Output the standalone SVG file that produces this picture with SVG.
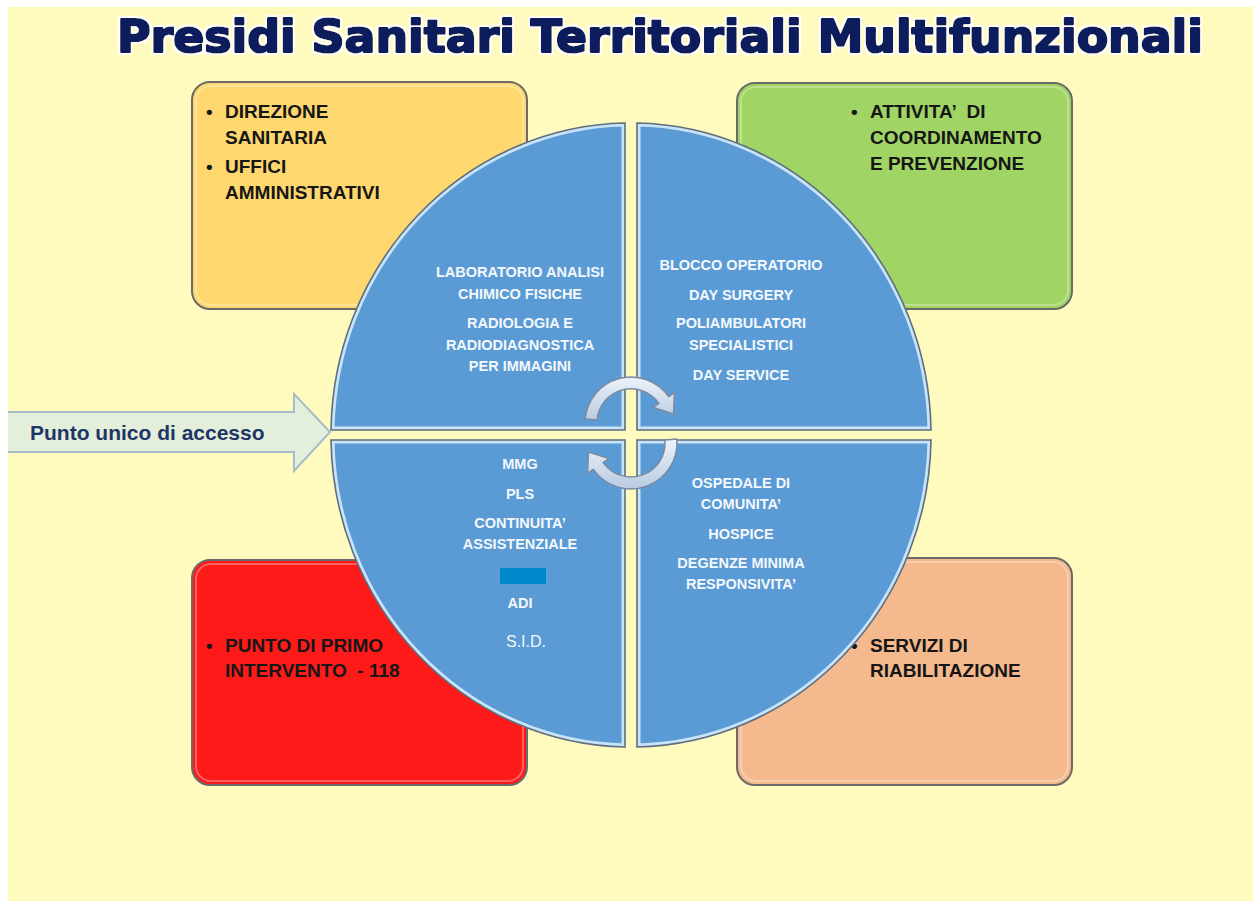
<svg xmlns="http://www.w3.org/2000/svg" width="1253" height="901" viewBox="0 0 1253 901">
<style>
.box{stroke:#6A6A6A;stroke-width:2}
.hl{fill:none;stroke:#FFFFFF;stroke-opacity:0.3;stroke-width:2}
.bt{font-family:"Liberation Sans",Arial,sans-serif;font-weight:bold;font-size:19px;fill:#161616;white-space:pre}
.qf{fill:#5B9BD5}
.qb{fill:none;stroke:#C9E3F8;stroke-width:7}
.qo{fill:none;stroke:#5C6E80;stroke-width:1.6}
.qt{font-family:"Liberation Sans",Arial,sans-serif;font-weight:bold;font-size:14.5px;fill:#F4F8FC;text-anchor:middle}
.rot{fill:url(#gRot);stroke:#7A8AA0;stroke-width:1.5;stroke-linejoin:round}
</style>
<defs>
<linearGradient id="gRot" x1="0" y1="0" x2="0" y2="1">
<stop offset="0" stop-color="#EEF3FA"/>
<stop offset="1" stop-color="#B8CBE2"/>
</linearGradient>
<filter id="halo" x="-5%" y="-30%" width="110%" height="160%">
<feMorphology in="SourceAlpha" operator="dilate" radius="1.6" result="d"/>
<feFlood flood-color="#FFFFFF" flood-opacity="0.85"/>
<feComposite in2="d" operator="in" result="w"/>
<feMerge><feMergeNode in="w"/><feMergeNode in="SourceGraphic"/></feMerge>
</filter>
<clipPath id="slide"><rect x="8" y="7" width="1245" height="894"/></clipPath>
<clipPath id="cTL"><path d="M331,430 A300 312 0 0 1 625,123 L625,430 Z"/></clipPath>
<clipPath id="cTR"><path d="M637,123 A300 312 0 0 1 931,430 L637,430 Z"/></clipPath>
<clipPath id="cBL"><path d="M331,440 L625,440 L625,747 A300 312 0 0 1 331,440 Z"/></clipPath>
<clipPath id="cBR"><path d="M637,440 L931,440 A300 312 0 0 1 637,747 Z"/></clipPath>
</defs>

<rect x="0" y="0" width="1253" height="901" fill="#FFFFFF"/>
<rect x="8" y="7" width="1245" height="894" fill="#FFFABD"/>

<g id="title">
<text x="117" y="52" font-family="'DejaVu Sans','Liberation Sans',sans-serif" font-weight="bold" font-size="45" fill="#0B1D5B" stroke="#0B1D5B" stroke-width="2.2" stroke-linejoin="round" textLength="1086" lengthAdjust="spacingAndGlyphs" filter="url(#halo)">Presidi Sanitari Territoriali Multifunzionali</text>
</g>

<g id="box-direzione">
<rect class="box" x="192" y="82" width="335" height="227" rx="18" fill="#FED86E"/>
<rect class="hl" x="196" y="86" width="327" height="219" rx="15"/>
<text class="bt" x="206" y="118">•</text>
<text class="bt" x="225" y="118">DIREZIONE</text>
<text class="bt" x="225" y="144">SANITARIA</text>
<text class="bt" x="206" y="173">•</text>
<text class="bt" x="225" y="173">UFFICI</text>
<text class="bt" x="225" y="199">AMMINISTRATIVI</text>
</g>

<g id="box-coordinamento">
<rect class="box" x="737" y="83" width="335" height="226" rx="18" fill="#A0D565"/>
<rect class="hl" x="741" y="87" width="327" height="218" rx="15"/>
<text class="bt" x="851" y="118">•</text>
<text class="bt" x="870" y="118">ATTIVITA’  DI</text>
<text class="bt" x="870" y="144">COORDINAMENTO</text>
<text class="bt" x="870" y="170">E PREVENZIONE</text>
</g>

<g id="box-primo-intervento">
<rect class="box" x="192" y="560" width="335" height="225" rx="18" fill="#FF1A1A"/>
<rect class="hl" x="196" y="564" width="327" height="217" rx="15"/>
<text class="bt" x="206" y="652">•</text>
<text class="bt" x="225" y="652">PUNTO DI PRIMO</text>
<text class="bt" x="225" y="677">INTERVENTO  - 118</text>
</g>

<g id="box-riabilitazione">
<rect class="box" x="737" y="558" width="335" height="227" rx="18" fill="#F4B98C"/>
<rect class="hl" x="741" y="562" width="327" height="219" rx="15"/>
<text class="bt" x="851" y="652">•</text>
<text class="bt" x="870" y="652">SERVIZI DI</text>
<text class="bt" x="870" y="677">RIABILITAZIONE</text>
</g>

<g id="q-diagnostica">
<path class="qf" d="M331,430 A300 312 0 0 1 625,123 L625,430 Z"/>
<path class="qb" clip-path="url(#cTL)" d="M331,430 A300 312 0 0 1 625,123 L625,430 Z"/>
<path class="qo" d="M331,430 A300 312 0 0 1 625,123 L625,430 Z"/>
<text class="qt" x="520" y="277">LABORATORIO ANALISI</text>
<text class="qt" x="520" y="299">CHIMICO FISICHE</text>
<text class="qt" x="520" y="328">RADIOLOGIA E</text>
<text class="qt" x="520" y="350">RADIODIAGNOSTICA</text>
<text class="qt" x="520" y="371">PER IMMAGINI</text>
</g>

<g id="q-chirurgia">
<path class="qf" d="M637,123 A300 312 0 0 1 931,430 L637,430 Z"/>
<path class="qb" clip-path="url(#cTR)" d="M637,123 A300 312 0 0 1 931,430 L637,430 Z"/>
<path class="qo" d="M637,123 A300 312 0 0 1 931,430 L637,430 Z"/>
<text class="qt" x="741" y="270">BLOCCO OPERATORIO</text>
<text class="qt" x="741" y="300">DAY SURGERY</text>
<text class="qt" x="741" y="328">POLIAMBULATORI</text>
<text class="qt" x="741" y="350">SPECIALISTICI</text>
<text class="qt" x="741" y="380">DAY SERVICE</text>
</g>

<g id="q-assistenza">
<path class="qf" d="M331,440 L625,440 L625,747 A300 312 0 0 1 331,440 Z"/>
<path class="qb" clip-path="url(#cBL)" d="M331,440 L625,440 L625,747 A300 312 0 0 1 331,440 Z"/>
<path class="qo" d="M331,440 L625,440 L625,747 A300 312 0 0 1 331,440 Z"/>
<text class="qt" x="520" y="469">MMG</text>
<text class="qt" x="520" y="499">PLS</text>
<text class="qt" x="520" y="528">CONTINUITA’</text>
<text class="qt" x="520" y="549">ASSISTENZIALE</text>
<rect x="500" y="568" width="46" height="16" fill="#0088CC"/>
<text class="qt" x="520" y="608">ADI</text>
<text x="526" y="647" font-family="'Liberation Sans',Arial,sans-serif" font-size="16" fill="#F4F8FC" text-anchor="middle">S.I.D.</text>
</g>

<g id="q-degenza">
<path class="qf" d="M637,440 L931,440 A300 312 0 0 1 637,747 Z"/>
<path class="qb" clip-path="url(#cBR)" d="M637,440 L931,440 A300 312 0 0 1 637,747 Z"/>
<path class="qo" d="M637,440 L931,440 A300 312 0 0 1 637,747 Z"/>
<text class="qt" x="741" y="488">OSPEDALE DI</text>
<text class="qt" x="741" y="509">COMUNITA’</text>
<text class="qt" x="741" y="539">HOSPICE</text>
<text class="qt" x="741" y="568">DEGENZE MINIMA</text>
<text class="qt" x="741" y="589">RESPONSIVITA’</text>
</g>

<g id="connectors">
<path class="rot" d="M585.2,419 A46 46 0 0 1 668.7,396.6 L674.4,392.6 L673.6,414 L653.1,407.5 L658.9,403.5 A34 34 0 0 0 597.1,420 Z"/>
<path class="rot" d="M676.8,439 A46 46 0 0 1 593.3,469.4 L587.6,473.4 L588.4,452 L608.9,458.5 L603.2,462.5 A34 34 0 0 0 664.9,440 Z"/>
</g>

<g id="accesso" clip-path="url(#slide)">
<polygon points="2,412 294,412 294,394 330,432 294,471 294,452 2,452" fill="#E3EFDA" stroke="#A7BCCB" stroke-width="2" stroke-linejoin="miter"/>
<text x="30" y="440" font-family="'Liberation Sans',Arial,sans-serif" font-weight="bold" font-size="21" fill="#1F3566">Punto unico di accesso</text>
</g>
</svg>
